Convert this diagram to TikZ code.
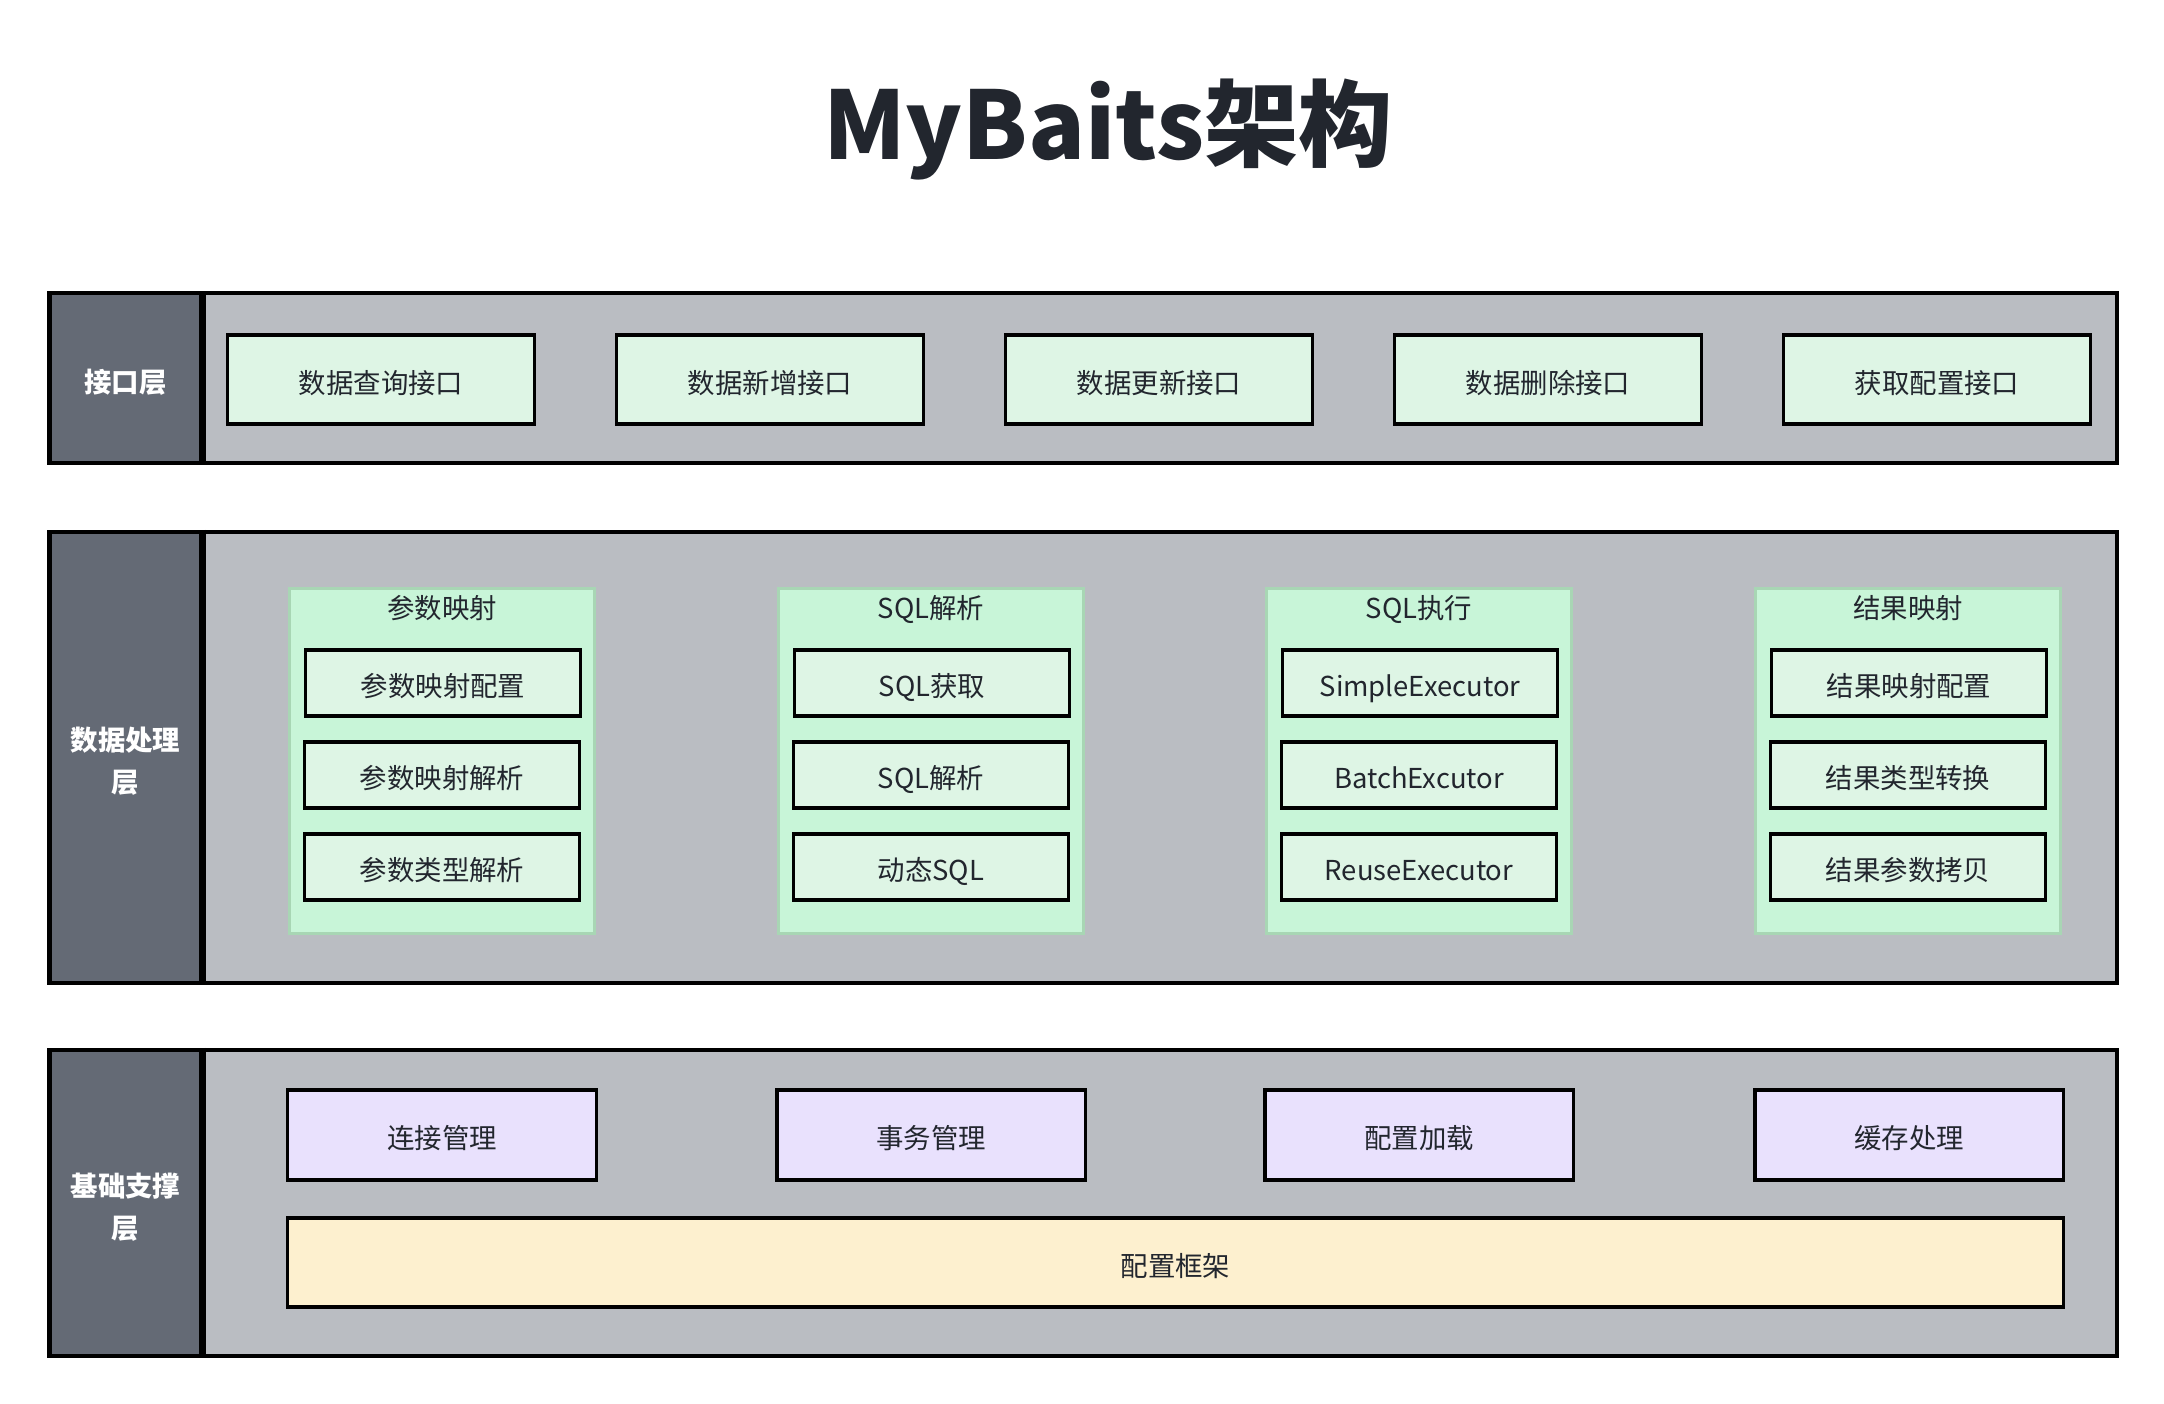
\documentclass[tikz,border=0pt]{standalone}
\usepackage{fontspec}
\setmainfont{Noto Sans CJK SC}
\usepackage{xcolor}
\usetikzlibrary{calc}

\definecolor{layergray}{HTML}{BABDC2}
\definecolor{sidegray}{HTML}{646A75}
\definecolor{mint}{HTML}{DEF5E5}
\definecolor{grpgreen}{HTML}{C8F5D8}
\definecolor{grpline}{HTML}{A8D6B4}
\definecolor{lavender}{HTML}{E9E1FD}
\definecolor{cream}{HTML}{FDF0CF}
\definecolor{inkdark}{HTML}{22262E}

\tikzset{
  layerbox/.style={draw=black, line width=1.1pt, fill=layergray, inner sep=0pt, minimum width=20.66cm},
  sidelabel/.style={draw=black, line width=1.1pt, fill=sidegray, inner sep=0pt, minimum width=1.51cm},
  sidetext/.style={inner sep=0pt, text=white, align=center, font=\fontsize{7.8}{12}\selectfont\bfseries},
  ifbox/.style={draw=black, line width=0.9pt, fill=mint, inner sep=0pt, minimum width=3.07cm,
    minimum height=0.89cm, text=inkdark, font=\fontsize{7.8}{10}\selectfont,
    text height=0.82em, text depth=0.04em},
  grpbox/.style={draw=grpline, line width=0.8pt, fill=grpgreen, inner sep=0pt, minimum width=3.05cm,
    minimum height=3.44cm},
  grptitle/.style={inner sep=0pt, text=inkdark, font=\fontsize{7.8}{10}\selectfont,
    text height=0.82em, text depth=0.04em},
  subbox/.style={ifbox, minimum width=2.75cm, minimum height=0.66cm},
  basebox/.style={ifbox, fill=lavender, minimum width=3.08cm, minimum height=0.90cm},
  framebox/.style={ifbox, fill=cream, minimum width=17.75cm, minimum height=0.89cm}
}

\begin{document}
\begin{tikzpicture}[x=0.01cm, y=-0.01cm]
  \useasboundingbox (0,0) rectangle (2164,1404);

  % title
  \node[anchor=base, inner sep=0pt, text=inkdark, font=\fontsize{26.8}{30}\selectfont\bfseries] (title) at (1108,160) {MyBaits架构};

  % interface layer
  \node[layerbox, minimum height=1.70cm] (L1) at (1083,378) {};
  \node[sidelabel, minimum height=1.70cm] (L1side) at (125.5,378) {};
  \node[sidetext] (L1name) at ($(L1side)+(0,4)$) {接口层};
  \draw[line width=1.6pt] (L1side.north east) -- (L1side.south east);
  \node[ifbox] (query) at (381,379.5) {数据查询接口};
  \node[ifbox] (insert) at (770,379.5) {数据新增接口};
  \node[ifbox] (update) at (1159,379.5) {数据更新接口};
  \node[ifbox] (delete) at (1548,379.5) {数据删除接口};
  \node[ifbox] (getconf) at (1937,379.5) {获取配置接口};

  % data processing layer
  \node[layerbox, minimum height=4.51cm] (L2) at (1083,757.5) {};
  \node[sidelabel, minimum height=4.51cm] (L2side) at (125.5,757.5) {};
  \node[sidetext] (L2name) at ($(L2side)+(0,4)$) {数据处理\\层};
  \draw[line width=1.6pt] (L2side.north east) -- (L2side.south east);

  \node[grpbox] (param) at (442,761) {};
  \node[grptitle] (paramT) at (442,605) {参数映射};
  \node[subbox] (param1) at (443,683) {参数映射配置};
  \node[subbox] (param2) at (442,775) {参数映射解析};
  \node[subbox] (param3) at (442,867) {参数类型解析};

  \node[grpbox] (sqlp) at (931,761) {};
  \node[grptitle] (sqlpT) at (931,605) {SQL解析};
  \node[subbox] (sqlp1) at (932,683) {SQL获取};
  \node[subbox] (sqlp2) at (931,775) {SQL解析};
  \node[subbox] (sqlp3) at (931,867) {动态SQL};

  \node[grpbox] (sqlx) at (1419,761) {};
  \node[grptitle] (sqlxT) at (1419,605) {SQL执行};
  \node[subbox] (sqlx1) at (1420,683) {SimpleExecutor};
  \node[subbox] (sqlx2) at (1419,775) {BatchExcutor};
  \node[subbox] (sqlx3) at (1419,867) {ReuseExecutor};

  \node[grpbox] (res) at (1908,761) {};
  \node[grptitle] (resT) at (1908,605) {结果映射};
  \node[subbox] (res1) at (1909,683) {结果映射配置};
  \node[subbox] (res2) at (1908,775) {结果类型转换};
  \node[subbox] (res3) at (1908,867) {结果参数拷贝};

  % base support layer
  \node[layerbox, minimum height=3.06cm] (L3) at (1083,1203) {};
  \node[sidelabel, minimum height=3.06cm] (L3side) at (125.5,1203) {};
  \node[sidetext] (L3name) at ($(L3side)+(0,4)$) {基础支撑\\层};
  \draw[line width=1.6pt] (L3side.north east) -- (L3side.south east);
  \node[basebox] (conn) at (442,1135) {连接管理};
  \node[basebox] (trans) at (931,1135) {事务管理};
  \node[basebox] (load) at (1419,1135) {配置加载};
  \node[basebox] (cache) at (1909,1135) {缓存处理};
  \node[framebox] (frame) at (1175.5,1262.5) {配置框架};
\end{tikzpicture}
\end{document}
